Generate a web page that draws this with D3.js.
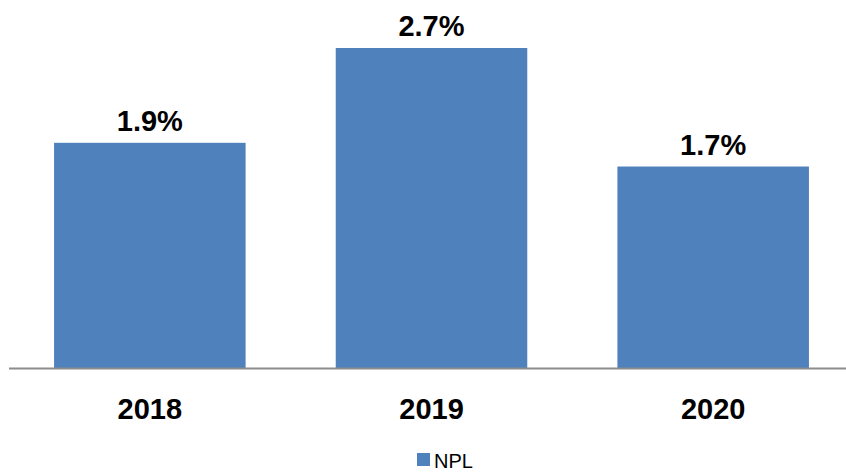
<!DOCTYPE html>
<html>
<head>
<meta charset="utf-8">
<script src="https://cdn.jsdelivr.net/npm/d3@7"></script>
<style>
  html, body { margin: 0; padding: 0; background: #fff; }
  svg { display: block; }
</style>
</head>
<body>
<svg id="chart" width="846" height="476"></svg>
<script>
// NPL ratio by year
const years = ["2018", "2019", "2020"];
const nplValues = [1.9, 2.7, 1.7];
const valueLabels = ["1.9%", "2.7%", "1.7%"];
const seriesName = "NPL";

const width = 846, height = 476;
const baseY = 368;
const barColor = "#4F81BD";
const fontFamily = "'Liberation Sans', Arial, sans-serif";

const svg = d3.select("#chart");

const x = d3.scaleBand()
  .domain(years)
  .range([9, 854])
  .paddingInner(0.32)
  .paddingOuter(0.16);

const y = d3.scaleLinear()
  .domain([0, 2.7])
  .range([baseY, 48]);

const data = years.map((yr, i) => ({ year: yr, value: nplValues[i], label: valueLabels[i] }));

// bars
svg.append("g")
  .selectAll("rect")
  .data(data)
  .join("rect")
  .attr("x", d => x(d.year))
  .attr("y", d => y(d.value))
  .attr("width", x.bandwidth())
  .attr("height", d => y(0) - y(d.value))
  .attr("fill", barColor);

// category axis
const xAxis = svg.append("g")
  .attr("transform", `translate(0,${baseY})`)
  .call(d3.axisBottom(x).tickSize(0).tickPadding(30));
xAxis.select(".domain").remove();
xAxis.append("line")
  .attr("x1", 9).attr("x2", width)
  .attr("y1", 0.5).attr("y2", 0.5)
  .attr("stroke", "#8c8c8c")
  .attr("stroke-width", 2);
xAxis.selectAll(".tick text")
  .attr("font-family", fontFamily)
  .attr("font-size", 29)
  .attr("font-weight", "bold")
  .attr("fill", "#000")
  .attr("dy", "0.71em");

// value labels above bars
svg.append("g")
  .selectAll("text")
  .data(data)
  .join("text")
  .attr("x", d => x(d.year) + x.bandwidth() / 2)
  .attr("y", d => y(d.value) - 12)
  .attr("text-anchor", "middle")
  .attr("font-family", fontFamily)
  .attr("font-size", 29)
  .attr("font-weight", "bold")
  .attr("fill", "#000")
  .text(d => d.label);

// legend
const legend = svg.append("g").attr("transform", "translate(417,453)");
legend.append("rect")
  .attr("width", 13).attr("height", 13)
  .attr("fill", barColor);
legend.append("text")
  .attr("x", 17).attr("y", 15)
  .attr("font-family", fontFamily)
  .attr("font-size", 20)
  .attr("fill", "#000")
  .text(seriesName);
</script>
</body>
</html>
